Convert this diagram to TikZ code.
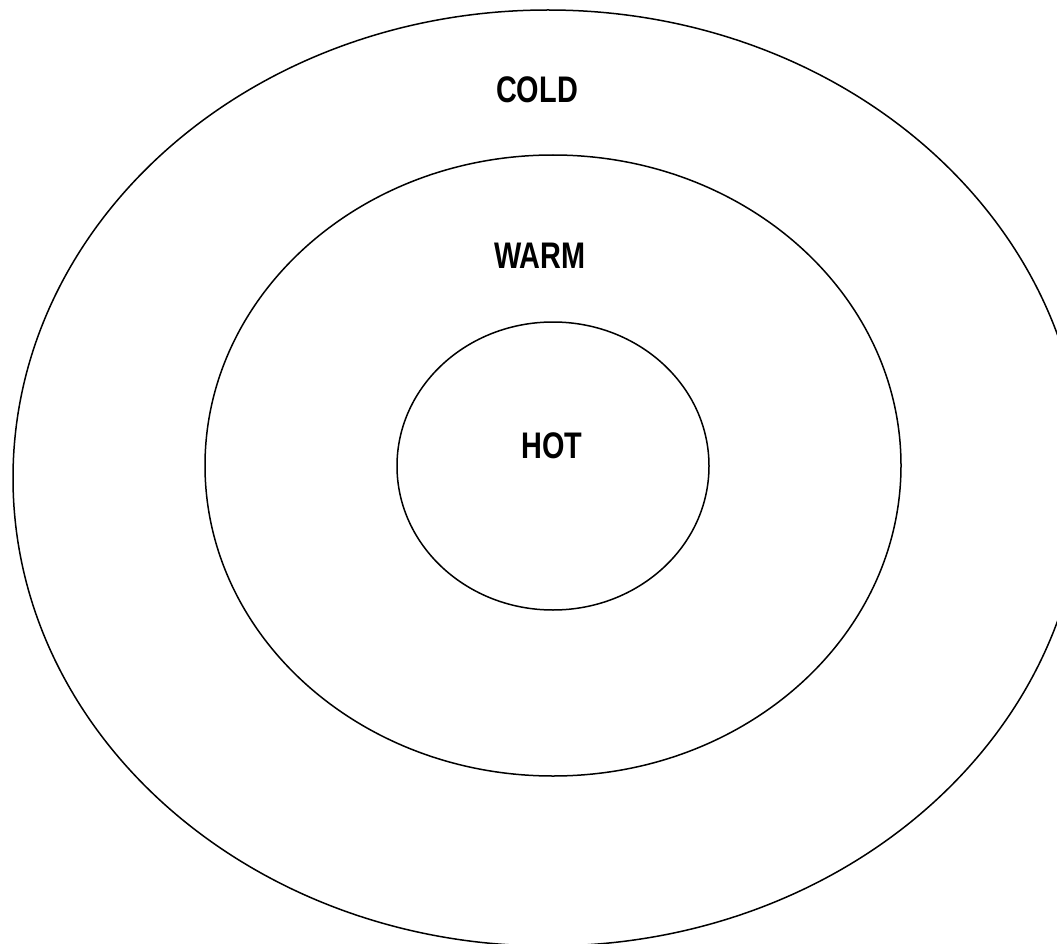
\documentclass[tikz,border=0pt]{standalone}
\usepackage{fontspec}
\newfontfamily\zonefont[FakeStretch=0.78]{Liberation Sans}
\usetikzlibrary{positioning,shapes.geometric}

\begin{document}
\begin{tikzpicture}[
  x=1pt, y=-1pt,
  zone/.style={draw, ellipse, line width=1.5pt, inner sep=0pt},
  tag/.style={font=\zonefont\bfseries\fontsize{37}{40}\selectfont, inner sep=0pt}
]
\clip (0,0) rectangle (1057,944);
\fill[white] (0,0) rectangle (1057,944);
% three zones around one centre
\node[zone, minimum width=1070pt, minimum height=936pt] (cold) at (548,478) {};
\node[zone, minimum width=696pt, minimum height=621pt] (warm) at (553,465.5) {};
\node[zone, minimum width=312pt, minimum height=288pt] (hot) at (553,466) {};

\node[tag] (coldtag) at (537,90) {COLD};
\node[tag] (warmtag) at (540,256) {WARM};
\node[tag] (hottag) at (552,446) {HOT};
\end{tikzpicture}
\end{document}
